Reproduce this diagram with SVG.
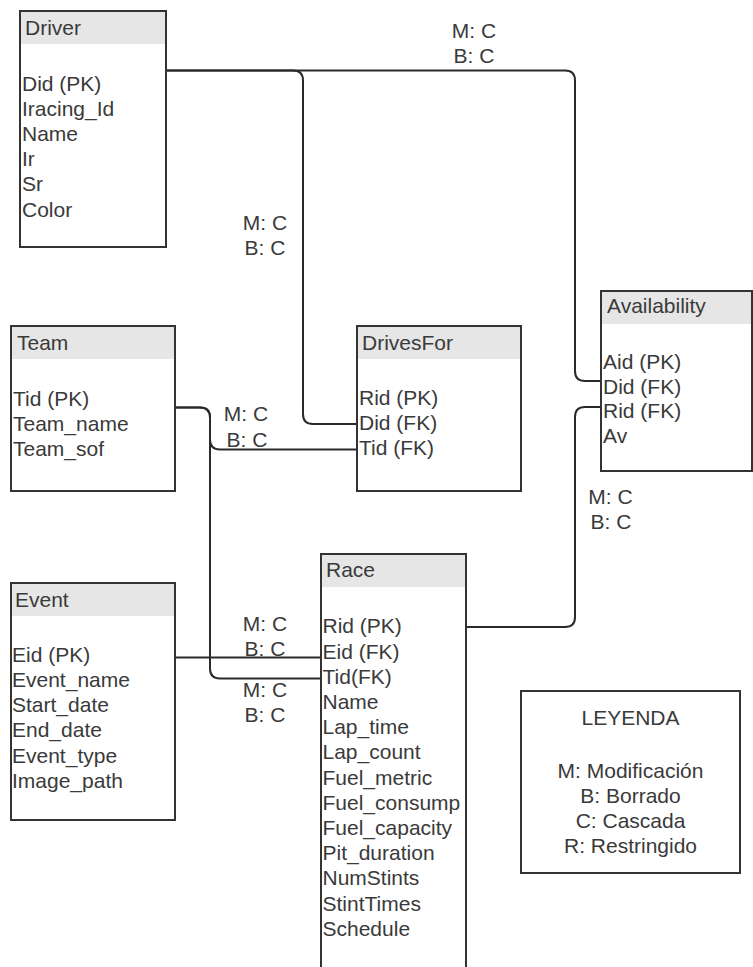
<svg xmlns="http://www.w3.org/2000/svg" width="753" height="967" viewBox="0 0 753 967">
<style>
  .box { fill: #ffffff; stroke: #333333; stroke-width: 2; }
  .hdr { fill: #e6e6e6; stroke: none; }
  text { font-family: "Liberation Sans", Arial, sans-serif; font-size: 21px; fill: #3a3a3a; }
  .mid { text-anchor: middle; }
  .conn { fill: none; stroke: #2a2a2a; stroke-width: 2; }
</style>
<rect x="0" y="0" width="753" height="967" fill="#ffffff"/>

<g id="connectors">
  <path class="conn" d="M166,70.5 H565 Q575,70.5 575,80.5 V371 Q575,381 585,381 H601"/>
  <path class="conn" d="M166,70.5 H293 Q303,70.5 303,80.5 V414 Q303,424 313,424 H357"/>
  <path class="conn" d="M175,407.5 H200 Q210,407.5 210,417.5 V439.5 Q210,449.5 220,449.5 H357"/>
  <path class="conn" d="M175,407.5 H200 Q210,407.5 210,417.5 V668.5 Q210,678.5 220,678.5 H321"/>
  <path class="conn" d="M175,657.5 H321"/>
  <path class="conn" d="M466,627 H565 Q575,627 575,617 V417 Q575,407 585,407 H601"/>
  <text class="mid" x="474" y="38">M: C</text>
  <text class="mid" x="474" y="63">B: C</text>
  <text class="mid" x="265" y="230">M: C</text>
  <text class="mid" x="265" y="255">B: C</text>
  <text class="mid" x="246" y="421">M: C</text>
  <text class="mid" x="247" y="446.5">B: C</text>
  <text class="mid" x="265" y="631">M: C</text>
  <text class="mid" x="265" y="656">B: C</text>
  <text class="mid" x="265" y="697">M: C</text>
  <text class="mid" x="265" y="722">B: C</text>
  <text class="mid" x="610.5" y="503.5">M: C</text>
  <text class="mid" x="611" y="528.5">B: C</text>
</g>

<g id="driver">
  <rect class="box" x="20" y="11" width="146" height="236"/>
  <rect class="hdr" x="21" y="12" width="144" height="32"/>
  <text x="25" y="35">Driver</text>
  <text x="22" y="90.5">Did (PK)</text>
  <text x="22" y="115.7">Iracing_Id</text>
  <text x="22" y="140.9">Name</text>
  <text x="22" y="166.1">Ir</text>
  <text x="22" y="191.3">Sr</text>
  <text x="22" y="216.5">Color</text>
</g>

<g id="team">
  <rect class="box" x="11" y="326" width="164" height="165"/>
  <rect class="hdr" x="12" y="327" width="162" height="32"/>
  <text x="17" y="350">Team</text>
  <text x="13" y="406">Tid (PK)</text>
  <text x="13" y="431">Team_name</text>
  <text x="13" y="456">Team_sof</text>
</g>

<g id="drivesfor">
  <rect class="box" x="357" y="326" width="164" height="165"/>
  <rect class="hdr" x="358" y="327" width="162" height="32"/>
  <text x="362" y="350">DrivesFor</text>
  <text x="359" y="405">Rid (PK)</text>
  <text x="359" y="430">Did (FK)</text>
  <text x="359" y="455">Tid (FK)</text>
</g>

<g id="availability">
  <rect class="box" x="601" y="291" width="151" height="180"/>
  <rect class="hdr" x="602" y="292" width="149" height="32"/>
  <text x="607" y="313">Availability</text>
  <text x="603" y="369">Aid (PK)</text>
  <text x="603" y="393.7">Did (FK)</text>
  <text x="603" y="418.4">Rid (FK)</text>
  <text x="603" y="443">Av</text>
</g>

<g id="event">
  <rect class="box" x="11" y="583" width="164" height="237"/>
  <rect class="hdr" x="12" y="584" width="162" height="32"/>
  <text x="15" y="607">Event</text>
  <text x="12" y="661.7">Eid (PK)</text>
  <text x="12" y="686.9">Event_name</text>
  <text x="12" y="712.1">Start_date</text>
  <text x="12" y="737.3">End_date</text>
  <text x="12" y="762.5">Event_type</text>
  <text x="12" y="787.7">Image_path</text>
</g>

<g id="race">
  <rect class="box" x="321" y="554" width="145" height="460"/>
  <rect class="hdr" x="322" y="555" width="143" height="32"/>
  <text x="326" y="577">Race</text>
  <text x="322.5" y="633.3">Rid (PK)</text>
  <text x="322.5" y="658.5">Eid (FK)</text>
  <text x="322.5" y="683.7">Tid(FK)</text>
  <text x="322.5" y="708.9">Name</text>
  <text x="322.5" y="734.1">Lap_time</text>
  <text x="322.5" y="759.3">Lap_count</text>
  <text x="322.5" y="784.5">Fuel_metric</text>
  <text x="322.5" y="809.7">Fuel_consump</text>
  <text x="322.5" y="834.9">Fuel_capacity</text>
  <text x="322.5" y="860.1">Pit_duration</text>
  <text x="322.5" y="885.3">NumStints</text>
  <text x="322.5" y="910.5">StintTimes</text>
  <text x="322.5" y="935.7">Schedule</text>
</g>

<g id="legend">
  <rect class="box" x="521" y="691" width="219" height="182"/>
  <text class="mid" x="630.5" y="725">LEYENDA</text>
  <text class="mid" x="630.5" y="778">M: Modificación</text>
  <text class="mid" x="630.5" y="803">B: Borrado</text>
  <text class="mid" x="630.5" y="828">C: Cascada</text>
  <text class="mid" x="630.5" y="853">R: Restringido</text>
</g>
</svg>
